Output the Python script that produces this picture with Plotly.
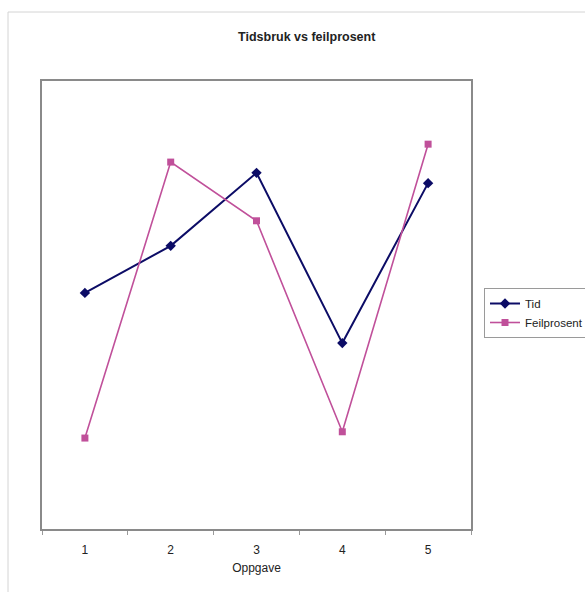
import plotly.graph_objects as go

categories = ["1", "2", "3", "4", "5"]
tid = [52.7, 63.2, 79.5, 41.5, 77.2]
feilprosent = [20.3, 81.9, 68.8, 21.7, 85.9]

fig = go.Figure()
fig.add_trace(go.Scatter(
    x=categories, y=tid, name="Tid", mode="lines+markers",
    line=dict(color="#0c0c66", width=2),
    marker=dict(symbol="diamond", size=8, color="#0c0c66"),
))
fig.add_trace(go.Scatter(
    x=categories, y=feilprosent, name="Feilprosent", mode="lines+markers",
    line=dict(color="#c0509a", width=1.6),
    marker=dict(symbol="square", size=7, color="#c0509a"),
))

L, R, T, B = 42, 471, 81, 529
W, H = 585, 592
pw, ph = R - L, B - T

fig.update_layout(
    width=W, height=H,
    margin=dict(l=L, r=W - R, t=T, b=H - B, autoexpand=False),
    paper_bgcolor="white", plot_bgcolor="white",
    font=dict(family="Liberation Sans, Arial, sans-serif", size=12, color="#222"),
    title=dict(text="<b>Tidsbruk vs feilprosent</b>", x=306.7 / W, xref="container",
               xanchor="center", y=1 - 36.7 / H, yref="container", yanchor="middle",
               font=dict(size=12.5, color="#222")),
    showlegend=True,
    legend=dict(x=(484 - L) / pw, xanchor="left", y=(B - 288) / ph, yanchor="top",
                bordercolor="#9a9a9a", borderwidth=1, bgcolor="white",
                font=dict(size=11.5, color="#222"), tracegroupgap=0,
                itemwidth=30),
    xaxis=dict(type="category", range=[-0.5, 4.5], tickson="boundaries",
               ticks="outside", ticklen=4, ticklabelstandoff=9,
               tickcolor="#9a9a9a", showline=True, mirror=True, linecolor="#8a8a8a",
               linewidth=2, showgrid=False, zeroline=False,
               title=dict(text="Oppgave", standoff=7, font=dict(size=12)),
               tickfont=dict(size=12)),
    yaxis=dict(range=[0, 100], showticklabels=False, ticks="", showgrid=False,
               zeroline=False, showline=True, mirror=True, linecolor="#8a8a8a",
               linewidth=2),
    shapes=[dict(type="rect", xref="paper", yref="paper",
                 x0=(8 - L) / pw, x1=(700 - L) / pw,
                 y0=(B - 700) / ph, y1=(B - 12) / ph,
                 line=dict(color="#d4d4d4", width=1), fillcolor="rgba(0,0,0,0)",
                 layer="below")],
)

fig.write_html("out.html")
